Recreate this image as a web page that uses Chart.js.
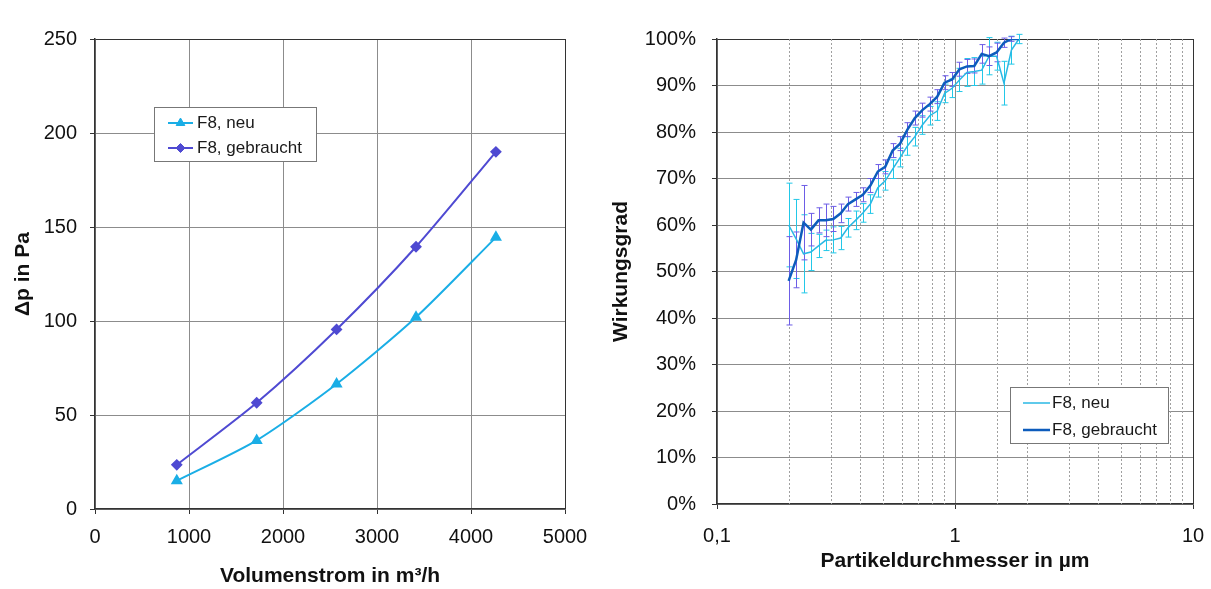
<!DOCTYPE html>
<html>
<head>
<meta charset="utf-8">
<script src="https://cdn.jsdelivr.net/npm/chart.js@4.4.1/dist/chart.umd.min.js"></script>
<style>
  html, body { margin: 0; padding: 0; background: #fff; overflow: hidden; }
  #wrap { position: relative; width: 1211px; height: 589px; }
  #leftChart { position: absolute; left: 0; top: 0; }
  #rightChart { position: absolute; left: 600px; top: 0; }
</style>
</head>
<body>
<div id="wrap">
  <canvas id="leftChart" width="600" height="589"></canvas>
  <canvas id="rightChart" width="611" height="589"></canvas>
</div>
<script>
// left chart: pressure drop vs. volume flow
var volumeFlow = [870, 1720, 2570, 3415, 4265];
var pressureNew = [15, 36.5, 66.5, 102, 144.5];
var pressureUsed = [23.5, 56.5, 95.5, 139.5, 190];

// right chart: fractional efficiency vs. particle size
var particleSize = [0.200, 0.215, 0.231, 0.248, 0.267, 0.286, 0.308, 0.331, 0.355, 0.382,
    0.410, 0.441, 0.474, 0.509, 0.547, 0.588, 0.631, 0.678, 0.729, 0.783,
    0.842, 0.904, 0.972, 1.044, 1.122, 1.205, 1.295, 1.391, 1.495, 1.606,
    1.726, 1.855];
var efficiencyNew = [60, 57, 53.8, 54.2, 55.5, 56.7, 56.8, 57.2, 59.4, 61,
    62.6, 64.5, 68, 69.5, 72, 74.5, 77, 79, 81.5, 83.5,
    84.5, 88.3, 89.4, 91.2, 92.8, 93, 93.3, 96.3, 96.3, 90.5,
    97.6, 100];
var efficiencyUsed = [48, 52.5, 60.5, 59, 61, 61, 61.3, 62.5, 64.5, 65.5,
    66.5, 68.5, 71.5, 72.5, 76, 77.5, 80.5, 83, 84.7, 86,
    87.6, 90.6, 91.3, 93.5, 94.1, 94.2, 96.8, 96.3, 97.1, 99.2,
    100, 100];
var errorNew = [9, 8.5, 8.4, 4, 2.5, 2.2, 2.8, 2.5, 2, 2,
    2, 2, 2, 2, 2, 2, 2, 2, 2, 2,
    2, 2, 2, 2.5, 3, 3, 3, 4, 3, 4.7,
    3, 1];
var errorUsed = [9.5, 6, 8, 3.5, 2.7, 3.5, 2.7, 2, 1.5, 1.5,
    1.5, 1.5, 1.5, 1.5, 1.5, 1.5, 1.5, 1.5, 1.5, 1.5,
    1.5, 1.5, 1.5, 1.5, 1.5, 1.5, 2, 2, 2, 1,
    0.5, 0];

var seriesLabels = ["F8, neu", "F8, gebraucht"];

var FONT = "'Liberation Sans', Arial, sans-serif";
var FRAME = "#333";
var GRID = "#8c8c8c";

Chart.defaults.font.family = FONT;
Chart.defaults.color = "#111";

function toPoints(xs, ys) {
    return xs.map(function (x, i) { return { x: x, y: ys[i] }; });
}

function isDecade(v) {
    var l = Math.log10(v);
    return Math.abs(l - Math.round(l)) < 1e-6;
}

// fixed axis box sizes so the plot area sits where the original has it
function fixHeight(h) {
    return function (s) { s.height = h; s.paddingLeft = 0; s.paddingRight = 0; };
}
function fixWidth(w) {
    return function (s) { s.width = w; s.paddingTop = 0; s.paddingBottom = 0; };
}

// legend in a framed box inside the plot
var boxLegend = {
    id: "boxLegend",
    afterDraw: function (chart, args, o) {
        var ctx = chart.ctx;
        ctx.save();
        ctx.fillStyle = "#fff";
        ctx.fillRect(o.x, o.y, o.w, o.h);
        ctx.strokeStyle = "#777";
        ctx.lineWidth = 1;
        ctx.strokeRect(o.x + 0.5, o.y + 0.5, o.w, o.h);
        ctx.font = "17px " + FONT;
        ctx.textBaseline = "middle";
        chart.data.datasets.forEach(function (ds, i) {
            var y = o.y + o.row0 + i * o.rowGap;
            ctx.strokeStyle = ds.borderColor;
            ctx.lineWidth = ds.borderWidth;
            ctx.beginPath();
            ctx.moveTo(o.x + o.line0, y);
            ctx.lineTo(o.x + o.line1, y);
            ctx.stroke();
            if (ds.pointRadius) {
                ctx.fillStyle = ds.backgroundColor;
                ctx.lineWidth = 1;
                Chart.helpers.drawPoint(ctx, { pointStyle: ds.pointStyle, radius: ds.pointRadius, borderWidth: 1 },
                    o.x + (o.line0 + o.line1) / 2, y);
            }
            ctx.fillStyle = "#1a1a1a";
            ctx.fillText(ds.label, o.x + o.textX, y);
        });
        ctx.restore();
    }
};

// dashed minor grid lines of the log axis
var minorGrid = {
    id: "minorGrid",
    beforeDatasetsDraw: function (chart) {
        var xs = chart.scales.x, area = chart.chartArea, ctx = chart.ctx;
        ctx.save();
        ctx.strokeStyle = "#a0a0a0";
        ctx.lineWidth = 1;
        ctx.setLineDash([2, 2]);
        xs.ticks.forEach(function (t) {
            if (isDecade(t.value)) return;
            var px = Math.round(xs.getPixelForValue(t.value)) + 0.5;
            ctx.beginPath();
            ctx.moveTo(px, area.top);
            ctx.lineTo(px, area.bottom);
            ctx.stroke();
        });
        ctx.restore();
    }
};

// vertical error bars with caps
var errorBars = {
    id: "errorBars",
    beforeDatasetsDraw: function (chart) {
        var ctx = chart.ctx, xs = chart.scales.x, ys = chart.scales.y;
        ctx.save();
        chart.data.datasets.forEach(function (ds) {
            if (!ds.errors) return;
            ctx.strokeStyle = ds.errorColor;
            ctx.lineWidth = 1;
            ds.data.forEach(function (p, i) {
                var e = ds.errors[i];
                if (!e) return;
                var px = Math.round(xs.getPixelForValue(p.x)) + 0.5;
                var top = ys.getPixelForValue(p.y + e);
                var bot = ys.getPixelForValue(p.y - e);
                ctx.beginPath();
                ctx.moveTo(px, top); ctx.lineTo(px, bot);
                ctx.moveTo(px - 3, top); ctx.lineTo(px + 3, top);
                ctx.moveTo(px - 3, bot); ctx.lineTo(px + 3, bot);
                ctx.stroke();
            });
        });
        ctx.restore();
    }
};

new Chart(document.getElementById("leftChart"), {
    type: "line",
    data: {
        datasets: [
            {
                label: seriesLabels[0],
                data: toPoints(volumeFlow, pressureNew),
                borderColor: "#1aaee6",
                backgroundColor: "#1aaee6",
                borderWidth: 2,
                pointStyle: "triangle",
                pointRadius: 5,
                tension: 0.25
            },
            {
                label: seriesLabels[1],
                data: toPoints(volumeFlow, pressureUsed),
                borderColor: "#4f4ad2",
                backgroundColor: "#4f4ad2",
                borderWidth: 2,
                pointStyle: "rectRot",
                pointRadius: 4.5,
                tension: 0.25
            }
        ]
    },
    options: {
        responsive: false,
        animation: false,
        devicePixelRatio: 1,
        layout: { padding: { top: 39, right: 35, left: 0, bottom: 0 } },
        plugins: {
            legend: { display: false },
            tooltip: { enabled: false },
            boxLegend: { x: 154, y: 107, w: 162, h: 54, row0: 16, rowGap: 25, line0: 14, line1: 39, textX: 43 }
        },
        scales: {
            x: {
                type: "linear",
                min: 0,
                max: 5000,
                ticks: {
                    stepSize: 1000,
                    padding: 11,
                    font: { size: 20 },
                    maxRotation: 0,
                    callback: function (v) { return String(v); }
                },
                grid: {
                    color: function (c) { return c.tick && c.tick.value === 5000 ? FRAME : GRID; },
                    tickColor: FRAME,
                    tickLength: 5
                },
                border: { color: FRAME, width: 1.5 },
                title: {
                    display: true,
                    text: "Volumenstrom in m³/h",
                    font: { size: 21, weight: "bold" },
                    padding: { top: 0, bottom: 0 }
                },
                afterFit: fixHeight(80)
            },
            y: {
                min: 0,
                max: 250,
                ticks: { stepSize: 50, padding: 13, font: { size: 20 } },
                grid: {
                    color: function (c) { return c.tick && c.tick.value === 250 ? FRAME : GRID; },
                    tickColor: FRAME,
                    tickLength: 5
                },
                border: { color: FRAME, width: 1.5 },
                title: {
                    display: true,
                    text: "Δp in Pa",
                    font: { size: 21, weight: "bold" },
                    padding: { top: 11, bottom: 0 }
                },
                afterFit: fixWidth(95)
            }
        }
    },
    plugins: [boxLegend]
});

new Chart(document.getElementById("rightChart"), {
    type: "line",
    data: {
        datasets: [
            {
                label: seriesLabels[0],
                data: toPoints(particleSize, efficiencyNew),
                errors: errorNew,
                errorColor: "#22c8e8",
                borderColor: "#2ab8e4",
                borderWidth: 1.5,
                pointRadius: 0,
                tension: 0,
                order: 1
            },
            {
                label: seriesLabels[1],
                data: toPoints(particleSize, efficiencyUsed),
                errors: errorUsed,
                errorColor: "#6d5de6",
                borderColor: "#0d5cbc",
                borderWidth: 2.5,
                pointRadius: 0,
                tension: 0,
                order: 0
            }
        ]
    },
    options: {
        responsive: false,
        animation: false,
        devicePixelRatio: 1,
        layout: { padding: { top: 39, right: 18, left: 0, bottom: 0 } },
        plugins: {
            legend: { display: false },
            tooltip: { enabled: false },
            boxLegend: { x: 410, y: 387, w: 158, h: 56, row0: 16, rowGap: 27, line0: 13, line1: 40, textX: 42 }
        },
        scales: {
            x: {
                type: "logarithmic",
                min: 0.1,
                max: 10,
                ticks: {
                    autoSkip: false,
                    maxRotation: 0,
                    padding: 15,
                    font: { size: 20 },
                    callback: function (v) {
                        if (!isDecade(v)) return "";
                        return v < 1 ? v.toFixed(1).replace(".", ",") : String(Math.round(v));
                    }
                },
                grid: {
                    color: function (c) {
                        if (!c.tick) return GRID;
                        if (!isDecade(c.tick.value)) return "rgba(0,0,0,0)";
                        return c.tick.value > 5 ? FRAME : GRID;
                    },
                    tickColor: function (c) {
                        return c.tick && isDecade(c.tick.value) ? FRAME : "rgba(0,0,0,0)";
                    },
                    tickLength: 5
                },
                border: { color: FRAME, width: 1.5 },
                title: {
                    display: true,
                    text: "Partikeldurchmesser in µm",
                    font: { size: 21, weight: "bold" },
                    padding: { top: 0, bottom: 15 }
                },
                afterFit: fixHeight(85)
            },
            y: {
                min: 0,
                max: 100,
                ticks: {
                    stepSize: 10,
                    padding: 16,
                    font: { size: 20 },
                    callback: function (v) { return v + "%"; }
                },
                grid: {
                    color: function (c) { return c.tick && c.tick.value === 100 ? FRAME : GRID; },
                    tickColor: FRAME,
                    tickLength: 5
                },
                border: { color: FRAME, width: 1.5 },
                title: {
                    display: true,
                    text: "Wirkungsgrad",
                    font: { size: 21, weight: "bold" },
                    padding: { top: 9, bottom: 0 }
                },
                afterFit: fixWidth(117)
            }
        }
    },
    plugins: [minorGrid, errorBars, boxLegend]
});
</script>
</body>
</html>
